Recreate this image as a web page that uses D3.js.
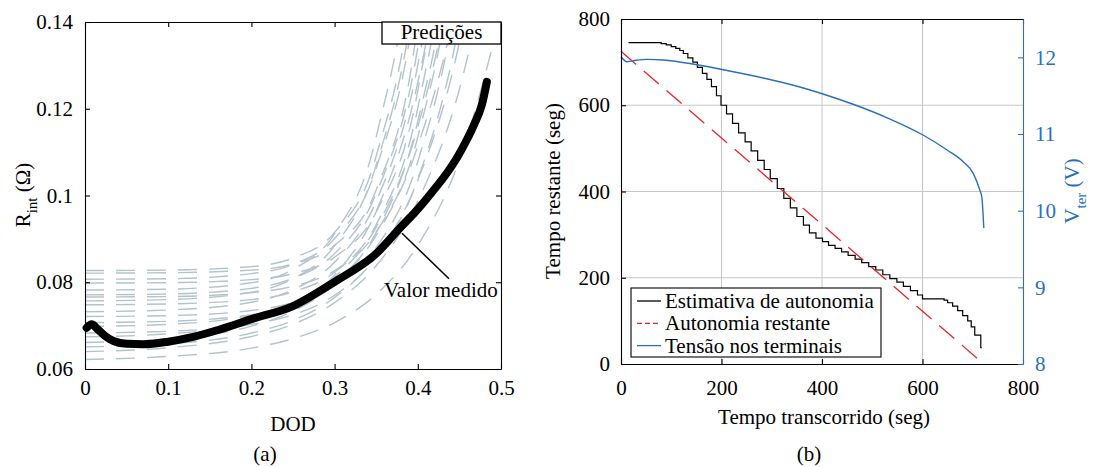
<!DOCTYPE html>
<html><head><meta charset="utf-8">
<script src="https://cdn.jsdelivr.net/npm/d3@7"></script>
<style>
body{margin:0;background:#fff}
svg{display:block}
text{font-family:"Liberation Serif","Times New Roman",serif}
</style>
</head><body>
<svg id="c" width="1094" height="467"></svg>
<script>
// ---------- Panel (a) data ----------
const dodTicks = [0, 0.1, 0.2, 0.3, 0.4, 0.5];
const rTicks = [0.06, 0.08, 0.1, 0.12, 0.14];
const rTickLabels = ["0.06", "0.08", "0.1", "0.12", "0.14"];

const measDOD = [0.002, 0.008, 0.015, 0.025, 0.035, 0.05, 0.07, 0.1, 0.13, 0.16, 0.2, 0.25, 0.3, 0.35, 0.38, 0.395, 0.418, 0.435, 0.448, 0.458, 0.4675, 0.477, 0.483];
const measR   = [0.0695, 0.0703, 0.0692, 0.0675, 0.0664, 0.0658, 0.0657, 0.0663, 0.0674, 0.0690, 0.0715, 0.0745, 0.0801, 0.0866, 0.0928, 0.0958, 0.1010, 0.1052, 0.1090, 0.1125, 0.1163, 0.1209, 0.1262];

const predDOD = [0, 0.1, 0.2, 0.25, 0.3, 0.35, 0.4, 0.45, 0.5];
const predCurves = [
  [0.0827, 0.0828, 0.0836, 0.0856, 0.0915, 0.1091, 0.1624, 0.32, 0.60],
  [0.0821, 0.0822, 0.0828, 0.0842, 0.0885, 0.1013, 0.1400, 0.2557, 0.60],
  [0.0807, 0.0808, 0.0820, 0.0841, 0.0901, 0.1063, 0.1500, 0.2697, 0.60],
  [0.0798, 0.0799, 0.0806, 0.0820, 0.0858, 0.0962, 0.1242, 0.2011, 0.41],
  [0.0782, 0.0784, 0.0799, 0.0830, 0.0912, 0.1135, 0.1740, 0.34, 0.80],
  [0.0771, 0.0773, 0.0786, 0.0809, 0.0866, 0.1005, 0.1341, 0.2182, 0.42],
  [0.0766, 0.0767, 0.0776, 0.0791, 0.0827, 0.0916, 0.1135, 0.1674, 0.30],
  [0.0757, 0.0760, 0.0777, 0.0808, 0.0884, 0.1070, 0.1527, 0.2650, 0.54],
  [0.0748, 0.0750, 0.0760, 0.0778, 0.0823, 0.0933, 0.1202, 0.1865, 0.35],
  [0.0732, 0.0736, 0.0754, 0.0783, 0.0846, 0.0987, 0.1301, 0.2000, 0.35],
  [0.0721, 0.0723, 0.0735, 0.0753, 0.0792, 0.0880, 0.1078, 0.1516, 0.25],
  [0.0707, 0.0710, 0.0725, 0.0748, 0.0800, 0.0915, 0.1171, 0.1732, 0.30],
  [0.0698, 0.0703, 0.0724, 0.0753, 0.0812, 0.0927, 0.1158, 0.1626, 0.25],
  [0.0683, 0.0687, 0.0703, 0.0725, 0.0770, 0.0858, 0.1038, 0.1400, 0.21],
  [0.0674, 0.0681, 0.0708, 0.0744, 0.0817, 0.0964, 0.1261, 0.1858, 0.30],
  [0.0661, 0.0670, 0.0699, 0.0733, 0.0795, 0.0908, 0.1114, 0.1490, 0.22],
  [0.0651, 0.0658, 0.0683, 0.0712, 0.0765, 0.0860, 0.1035, 0.1353, 0.1932],
  [0.0640, 0.0649, 0.0675, 0.0703, 0.0753, 0.0838, 0.0987, 0.1245, 0.1693],
  [0.0622, 0.0629, 0.0648, 0.0670, 0.0707, 0.0772, 0.0885, 0.1081, 0.1420]
];
const annoArrow = [[0.381, 0.0913], [0.4375, 0.0808]]; // [DOD, R] from curve to label
const annoText = [0.3594, 0.0767];

// ---------- Panel (b) data ----------
const tTicks = [0, 200, 400, 600, 800];
const remTicks = [0, 200, 400, 600, 800];
const vTicks = [8, 9, 10, 11, 12];

const estT = [15, 80, 90, 100, 109, 117, 124, 133, 143, 152, 162, 171, 180, 190, 199, 210, 222, 234, 247, 259, 272, 285, 297, 311, 324, 337, 350, 363, 375, 388, 401, 413, 426, 439, 452, 466, 479, 493, 507, 521, 535, 549, 562, 576, 590, 600, 643, 650, 660, 670, 680, 690, 697, 704, 716, 718];
const estV = [745, 743, 740, 736, 732, 727, 720, 710, 700, 688, 674, 660, 643, 622, 600, 580, 558, 536, 515, 494, 472, 451, 430, 407, 384, 362, 342, 322, 304, 292, 284, 275, 268, 260, 252, 243, 235, 226, 218, 207, 198, 190, 180, 170, 160, 151, 148, 142, 134, 124, 112, 100, 86, 67, 38, 38];

const autoT = [0, 710];
const autoV = [725, 12];

const voltT = [0, 12, 30, 52, 84, 143, 201, 283, 356, 402, 466, 532, 601, 649, 681, 701, 714, 718, 722];
const voltV = [12.008, 11.943, 11.962, 11.974, 11.965, 11.913, 11.841, 11.730, 11.613, 11.522, 11.378, 11.205, 10.987, 10.791, 10.639, 10.487, 10.269, 10.178, 9.774];

const legendLabels = ["Estimativa de autonomia", "Autonomia restante", "Tensão nos terminais"];

// ---------- drawing ----------
const FS = 21;
const FONT = '"Liberation Serif","Times New Roman",serif';
const BLUE = "#2a6fbd";
const RED = "#e8262a";
const GRID = "#c6c6c6";
const svg = d3.select("#c");

function fix(g, color) {
  g.attr("font-family", FONT).attr("font-size", FS);
  g.select(".domain").attr("stroke", color).attr("stroke-width", 1.1);
  g.selectAll(".tick line").attr("stroke", color).attr("stroke-width", 1.1);
  g.selectAll(".tick text").attr("fill", color);
  return g;
}

// ===== Panel (a) =====
const xL = d3.scaleLinear().domain([0, 0.5]).range([85, 501]);
const yL = d3.scaleLinear().domain([0.06, 0.14]).range([369, 22]);

svg.append("clipPath").attr("id", "clipL").append("rect")
  .attr("x", xL(0)).attr("y", yL(0.14)).attr("width", xL(0.5) - xL(0)).attr("height", yL(0.06) - yL(0.14));

const pl = svg.append("g").attr("clip-path", "url(#clipL)");
const predLine = d3.line().x((d, i) => xL(predDOD[i])).y(d => yL(d)).curve(d3.curveMonotoneX);
pl.selectAll("path.pred").data(predCurves).join("path").attr("class", "pred")
  .attr("d", predLine).attr("fill", "none").attr("stroke", "#b3c3cc")
  .attr("stroke-width", 1.4).attr("stroke-dasharray", "19,12");

const measLine = d3.line().x((d, i) => xL(measDOD[i])).y(d => yL(d)).curve(d3.curveMonotoneX);
svg.append("path").datum(measR).attr("d", measLine).attr("fill", "none")
  .attr("stroke", "#000").attr("stroke-width", 8).attr("stroke-linecap", "round").attr("stroke-linejoin", "round");

fix(svg.append("g").attr("transform", `translate(0,${yL(0.06)})`)
  .call(d3.axisBottom(xL).tickValues(dodTicks).tickFormat(d3.format("")).tickSize(-5).tickSizeOuter(0).tickPadding(11)), "#000");
fix(svg.append("g").attr("transform", `translate(${xL(0)},0)`)
  .call(d3.axisLeft(yL).tickValues(rTicks).tickFormat((d, i) => rTickLabels[i]).tickSize(-5).tickSizeOuter(0).tickPadding(12)), "#000");
fix(svg.append("g").attr("transform", `translate(0,${yL(0.14)})`)
  .call(d3.axisTop(xL).tickValues(dodTicks).tickFormat("").tickSize(-5).tickSizeOuter(0)), "#000");
fix(svg.append("g").attr("transform", `translate(${xL(0.5)},0)`)
  .call(d3.axisRight(yL).tickValues(rTicks).tickFormat("").tickSize(-5).tickSizeOuter(0)), "#000");

// Predições legend
svg.append("rect").attr("x", 382).attr("y", yL(0.14)).attr("width", xL(0.5) - 382).attr("height", 22)
  .attr("fill", "#fff").attr("stroke", "#000").attr("stroke-width", 1.3);
svg.append("text").attr("x", (382 + xL(0.5)) / 2).attr("y", 39).attr("text-anchor", "middle")
  .attr("font-size", FS).text("Predições");

// annotation
svg.append("line").attr("x1", xL(annoArrow[0][0])).attr("y1", yL(annoArrow[0][1]))
  .attr("x2", xL(annoArrow[1][0])).attr("y2", yL(annoArrow[1][1])).attr("stroke", "#000").attr("stroke-width", 1.5);
svg.append("text").attr("x", xL(annoText[0])).attr("y", yL(annoText[1])).attr("font-size", FS).text("Valor medido");

// labels
const yl = svg.append("text").attr("transform", "translate(30,195) rotate(-90)").attr("text-anchor", "middle").attr("font-size", FS);
yl.append("tspan").text("R");
yl.append("tspan").attr("font-size", 15).attr("dy", 7).text("int");
yl.append("tspan").attr("dy", -7).text(" (Ω)");
svg.append("text").attr("x", 293).attr("y", 431).attr("text-anchor", "middle").attr("font-size", FS).text("DOD");
svg.append("text").attr("x", 265).attr("y", 461).attr("text-anchor", "middle").attr("font-size", FS).text("(a)");

// ===== Panel (b) =====
const xR = d3.scaleLinear().domain([0, 800]).range([621, 1023]);
const yR = d3.scaleLinear().domain([0, 800]).range([364, 19]);
const yV = d3.scaleLinear().domain([8, 12.5]).range([364, 19]);

const grid = svg.append("g");
grid.selectAll("line.gx").data([200, 400, 600]).join("line").attr("class", "gx")
  .attr("x1", d => xR(d)).attr("x2", d => xR(d)).attr("y1", yR(0)).attr("y2", yR(800))
  .attr("stroke", GRID).attr("stroke-width", 1);
grid.selectAll("line.gy").data([200, 400, 600]).join("line").attr("class", "gy")
  .attr("y1", d => yR(d)).attr("y2", d => yR(d)).attr("x1", xR(0)).attr("x2", xR(800))
  .attr("stroke", GRID).attr("stroke-width", 1);

const stairLine = d3.line().x((d, i) => xR(estT[i])).y(d => yR(d)).curve(d3.curveStepAfter);
svg.append("path").datum(estV).attr("d", stairLine).attr("fill", "none").attr("stroke", "#000").attr("stroke-width", 1.2);

const autoLine = d3.line().x((d, i) => xR(autoT[i])).y(d => yR(d));
svg.append("path").datum(autoV).attr("d", autoLine).attr("fill", "none").attr("stroke", RED)
  .attr("stroke-width", 1.3).attr("stroke-dasharray", "20,10");

const voltLine = d3.line().x((d, i) => xR(voltT[i])).y(d => yV(d)).curve(d3.curveMonotoneX);
svg.append("path").datum(voltV).attr("d", voltLine).attr("fill", "none").attr("stroke", BLUE).attr("stroke-width", 1.4);

fix(svg.append("g").attr("transform", `translate(0,${yR(0)})`)
  .call(d3.axisBottom(xR).tickValues(tTicks).tickFormat(d3.format("")).tickSize(-5).tickSizeOuter(0).tickPadding(16)), "#000");
fix(svg.append("g").attr("transform", `translate(${xR(0)},0)`)
  .call(d3.axisLeft(yR).tickValues(remTicks).tickFormat(d3.format("")).tickSize(-5).tickSizeOuter(0).tickPadding(11)), "#000");
fix(svg.append("g").attr("transform", `translate(0,${yR(800)})`)
  .call(d3.axisTop(xR).tickValues(tTicks).tickFormat("").tickSize(-5).tickSizeOuter(0)), "#000");
fix(svg.append("g").attr("transform", `translate(${xR(800)},0)`)
  .call(d3.axisRight(yV).tickValues(vTicks).tickFormat(d3.format("")).tickSize(-5).tickSizeOuter(0).tickPadding(12)), BLUE);

// legend
const lg = svg.append("g");
lg.append("rect").attr("x", 631).attr("y", 288).attr("width", 250).attr("height", 69)
  .attr("fill", "#fff").attr("stroke", "#000").attr("stroke-width", 1.1);
const lstyles = [{c: "#000", d: null}, {c: RED, d: "5,3"}, {c: BLUE, d: null}];
legendLabels.forEach((lab, i) => {
  const cy = 301 + i * 22.3;
  lg.append("line").attr("x1", 637).attr("x2", 661).attr("y1", cy).attr("y2", cy)
    .attr("stroke", lstyles[i].c).attr("stroke-width", 1.3).attr("stroke-dasharray", lstyles[i].d);
  lg.append("text").attr("x", 665).attr("y", cy + 7).attr("font-size", FS).text(lab);
});

// labels
svg.append("text").attr("transform", "translate(560,191) rotate(-90)").attr("text-anchor", "middle")
  .attr("font-size", FS).text("Tempo restante (seg)");
svg.append("text").attr("x", 824).attr("y", 424).attr("text-anchor", "middle").attr("font-size", FS).text("Tempo transcorrido (seg)");
const vl = svg.append("text").attr("transform", "translate(1079,191) rotate(-90)").attr("text-anchor", "middle")
  .attr("font-size", FS).attr("fill", BLUE);
vl.append("tspan").text("V");
vl.append("tspan").attr("font-size", 15).attr("dy", 7).text("ter");
vl.append("tspan").attr("dy", -7).text(" (V)");
svg.append("text").attr("x", 809).attr("y", 461).attr("text-anchor", "middle").attr("font-size", FS).text("(b)");
</script>
</body></html>
